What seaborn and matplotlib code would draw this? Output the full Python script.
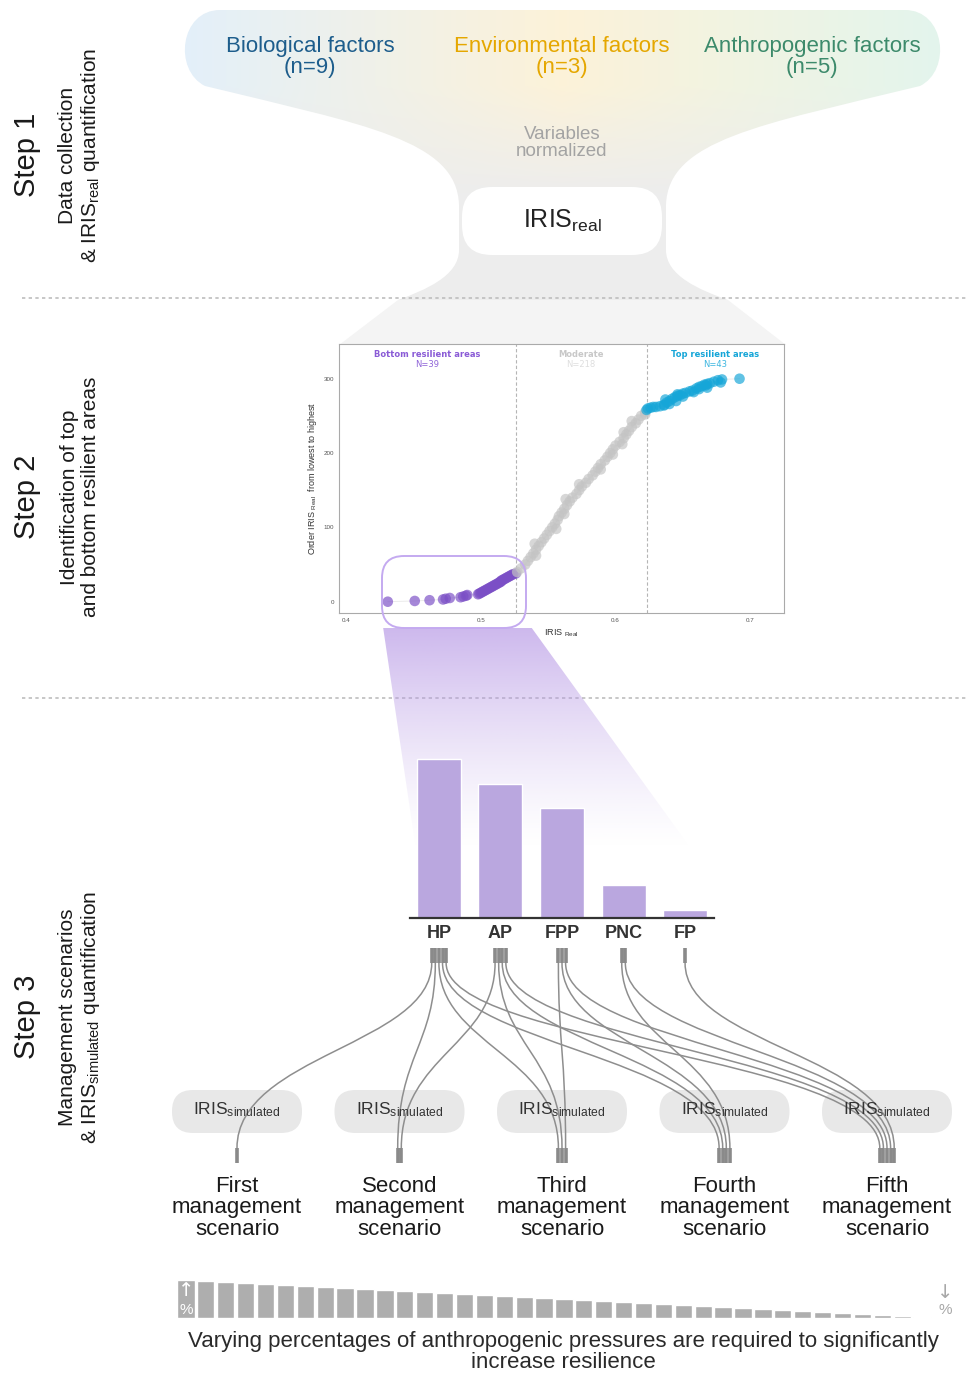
import numpy as np
import matplotlib
matplotlib.use("Agg")
import matplotlib.pyplot as plt
from matplotlib.path import Path
from matplotlib.patches import PathPatch, FancyBboxPatch, Polygon
import pandas as pd
import seaborn as sns

W, H = 968, 1375

# ---------------- data ----------------
factor_groups = ["Biological factors", "Environmental factors", "Anthropogenic factors"]
factor_counts = [9, 3, 5]
factor_colors = ["#1d5d8c", "#e5a700", "#3c8a6b"]

bottom_rank = [0, 1, 2, 3, 4, 5, 6, 7, 8, 9, 10, 11, 12, 13, 14, 15, 16, 17, 18, 19,
               20, 21, 22, 23, 24, 25, 26, 27, 28, 29, 30, 31, 32, 33, 34, 35, 36, 37, 38]
bottom_iris = [0.431, 0.451, 0.462, 0.472, 0.474, 0.477, 0.485, 0.487, 0.489, 0.490,
               0.498, 0.499, 0.500, 0.501, 0.502, 0.503, 0.504, 0.505, 0.506, 0.507,
               0.508, 0.509, 0.510, 0.511, 0.512, 0.513, 0.514, 0.515, 0.515, 0.516,
               0.517, 0.518, 0.519, 0.520, 0.521, 0.522, 0.523, 0.524, 0.526]
moderate_rank = [40, 45, 50, 55, 60, 62, 65, 70, 75, 78, 80, 85, 90, 95, 98, 100, 105,
                 110, 115, 118, 120, 125, 130, 135, 138, 140, 145, 150, 155, 158, 160,
                 165, 170, 175, 178, 180, 185, 190, 195, 198, 200, 205, 210, 212, 215,
                 220, 225, 228, 230, 235, 240, 243, 245, 250, 252, 255]
moderate_iris = [0.527, 0.530, 0.533, 0.535, 0.537, 0.541, 0.539, 0.541, 0.543, 0.540,
                 0.545, 0.547, 0.549, 0.551, 0.556, 0.553, 0.555, 0.557, 0.558, 0.562,
                 0.560, 0.562, 0.564, 0.566, 0.563, 0.568, 0.571, 0.573, 0.575, 0.573,
                 0.578, 0.580, 0.583, 0.585, 0.589, 0.587, 0.589, 0.592, 0.594, 0.598,
                 0.596, 0.598, 0.600, 0.605, 0.603, 0.606, 0.608, 0.606, 0.610, 0.612,
                 0.615, 0.612, 0.617, 0.619, 0.622, 0.622]
top_rank = [258, 260, 261, 262, 262, 263, 264, 265, 266, 268, 270, 270, 272, 273, 275,
            276, 277, 278, 279, 280, 281, 282, 283, 284, 286, 287, 288, 289, 290, 291,
            292, 293, 294, 295, 296, 298, 299, 300]
top_iris = [0.623, 0.624, 0.626, 0.628, 0.630, 0.633, 0.636, 0.636, 0.640, 0.638, 0.640,
            0.645, 0.637, 0.642, 0.644, 0.650, 0.646, 0.648, 0.646, 0.650, 0.652, 0.658,
            0.655, 0.657, 0.662, 0.660, 0.668, 0.662, 0.664, 0.667, 0.666, 0.668, 0.670,
            0.678, 0.673, 0.676, 0.679, 0.692]
group_labels = ["Bottom resilient areas", "Moderate", "Top resilient areas"]
group_n = [39, 218, 43]
group_colors = ["#7b4fc6", "#c4c4c4", "#16a6d8"]
thresholds = [0.526, 0.623]

pressures = ["HP", "AP", "FPP", "PNC", "FP"]
pressure_effect = [100, 84, 69, 21, 5]

scenarios = ["First", "Second", "Third", "Fourth", "Fifth"]

pressure_share = [38, 37, 36, 35, 34, 33, 32, 31, 30, 29, 28, 27, 26, 25, 24, 23, 22, 21, 20,
                  19, 18, 17, 16, 15, 14, 13, 12, 11, 10, 9, 8, 7, 6, 5, 4, 3, 2, 1]

# ---------------- figure ----------------
sns.set_theme(style="white")
plt.rcParams["font.family"] = ["Liberation Sans", "DejaVu Sans"]
plt.rcParams["mathtext.default"] = "regular"

fig = plt.figure(figsize=(W / 100, H / 100), dpi=100)
bg = fig.add_axes([0, 0, 1, 1])
bg.set_xlim(0, W)
bg.set_ylim(H, 0)
bg.axis("off")
bg.set_zorder(0)


def px_axes(x0, y0, x1, y1):
    return fig.add_axes([x0 / W, 1 - y1 / H, (x1 - x0) / W, (y1 - y0) / H])


# ---- step 1 funnel ----
verts = [(220, 10), (905, 10), (945, 10), (952, 70), (920, 86),
         (760, 125), (668, 140), (666, 205), (666, 250),
         (666, 276), (700, 290), (728, 300), (398, 300),
         (425, 290), (459, 276), (459, 250), (459, 205),
         (457, 140), (365, 125), (205, 86), (173, 70), (180, 10), (220, 10)]
codes = [Path.MOVETO, Path.LINETO, Path.CURVE4, Path.CURVE4, Path.CURVE4,
         Path.CURVE4, Path.CURVE4, Path.CURVE4, Path.LINETO,
         Path.CURVE4, Path.CURVE4, Path.CURVE4, Path.LINETO,
         Path.CURVE4, Path.CURVE4, Path.CURVE4, Path.LINETO,
         Path.CURVE4, Path.CURVE4, Path.CURVE4, Path.CURVE4, Path.CURVE4, Path.CURVE4]
funnel = PathPatch(Path(verts, codes), fc="none", ec="none", transform=bg.transData)
bg.add_patch(funnel)
gx = np.linspace(170, 960, 400)
gy = np.linspace(0, 300, 160)
stops = [180, 562, 945]
cols = np.array([[0.89, 0.94, 0.98], [0.99, 0.95, 0.85], [0.89, 0.96, 0.93]])
horiz = np.stack([np.interp(gx, stops, cols[:, c]) for c in range(3)], axis=-1)
wgt = np.clip((gy - 85) / 110, 0, 1)[:, None, None]
grey = np.array([0.93, 0.93, 0.93])
img = (1 - wgt) * horiz[None, :, :] + wgt * grey
im = bg.imshow(img, extent=(170, 960, 300, 0), aspect="auto", zorder=1)
im.set_clip_path(funnel)
bg.add_patch(Polygon([(398, 300), (728, 300), (786, 345), (339, 345)],
                     closed=True, fc="#f4f4f4", ec="none", zorder=1))

for i, (name, n, col) in enumerate(zip(factor_groups, factor_counts, factor_colors)):
    cx = [310, 562, 812][i]
    bg.text(cx, 57, f"{name}\n(n={n})", color=col, fontsize=16, ha="center",
            va="center", linespacing=1.05, zorder=3)
bg.text(562, 143, "Variables\nnormalized", color="#a3a3a3", fontsize=13.5,
        ha="center", va="center", linespacing=1.05, zorder=3)
bg.add_patch(FancyBboxPatch((462, 187), 200, 68,
                            boxstyle="round,pad=0,rounding_size=30",
                            fc="white", ec="none", zorder=2))
bg.text(562, 221, r"IRIS$_{real}$", fontsize=18, color="#222222",
        ha="center", va="center", zorder=3)

# ---- separators and step labels ----
for yy in [298, 698]:
    bg.plot([22, W], [yy, yy], color="#bdbdbd", lw=1.2, ls=(0, (2, 2)), zorder=1)

steps = [("Step 1", "Data collection\n& IRIS$_{real}$ quantification", 155),
         ("Step 2", "Identification of top\nand bottom resilient areas", 497),
         ("Step 3", "Management scenarios\n& IRIS$_{simulated}$ quantification", 1017)]
for title, sub, yc in steps:
    bg.text(27, yc, title, rotation=90, fontsize=21, ha="center", va="center",
            color="#1a1a1a")
    bg.text(80, yc, sub, rotation=90, fontsize=15, ha="center", va="center",
            multialignment="center", linespacing=1.1, color="#1a1a1a")

# ---- step 2 scatter ----
df = pd.DataFrame({
    "iris": bottom_iris + moderate_iris + top_iris,
    "rank": bottom_rank + moderate_rank + top_rank,
    "group": [group_labels[0]] * len(bottom_iris) + [group_labels[1]] * len(moderate_iris)
    + [group_labels[2]] * len(top_iris),
}).sort_values("rank", kind="stable")

ax_sc = px_axes(339, 344, 784, 613)
ax_sc.set_zorder(1)
sns.lineplot(data=df, x="iris", y="rank", sort=False, estimator=None,
             color="#ebebeb", lw=0.7, ax=ax_sc)
sns.scatterplot(data=df, x="iris", y="rank", hue="group",
                palette=dict(zip(group_labels, group_colors)),
                s=58, alpha=0.68, linewidth=0, legend=False, ax=ax_sc, zorder=3)
for t in thresholds:
    ax_sc.axvline(t, color="#b5b5b5", lw=0.8, ls=(0, (3, 2)))
ax_sc.set_xlim(0.3948, 0.725)
ax_sc.set_ylim(-15.2, 346.7)
ax_sc.set_xticks([0.4, 0.5, 0.6, 0.7])
ax_sc.set_yticks([0, 100, 200, 300])
ax_sc.tick_params(labelsize=4.5, colors="#555555", length=2, width=0.5, pad=1.5)
for sp in ax_sc.spines.values():
    sp.set_color("#aaaaaa")
    sp.set_linewidth(0.8)
ax_sc.set_xlabel(r"IRIS $_{Real}$", fontsize=6.5, color="#333333", labelpad=3)
ax_sc.set_ylabel(r"Order IRIS $_{Real}$  from lowest to highest", fontsize=6.5,
                 color="#333333", labelpad=3)
edges = [ax_sc.get_xlim()[0]] + thresholds + [ax_sc.get_xlim()[1]]
n_cols = ["#8f63d8", "#dedede", "#3cb6e0"]
t_cols = ["#8a5bd6", "#c8c8c8", "#16a6d8"]
for k in range(3):
    xm = (edges[k] + edges[k + 1]) / 2
    ax_sc.text(xm, 0.962, group_labels[k], transform=ax_sc.get_xaxis_transform(),
               ha="center", va="center", fontsize=6, fontweight="bold",
               color=t_cols[k], family="DejaVu Sans")
    ax_sc.text(xm, 0.922, f"N={group_n[k]}", transform=ax_sc.get_xaxis_transform(),
               ha="center", va="center", fontsize=6, color=n_cols[k],
               family="DejaVu Sans")

# highlight of the bottom areas and its projection
overlay = fig.add_axes([0, 0, 1, 1])
overlay.set_xlim(0, W)
overlay.set_ylim(H, 0)
overlay.axis("off")
overlay.set_zorder(2)
overlay.add_patch(FancyBboxPatch((382, 556), 144, 72,
                                 boxstyle="round,pad=0,rounding_size=22",
                                 fc="none", ec="#c4aaf0", lw=1.4))
cone = Polygon([(382, 620), (526, 620), (692, 850), (416, 850)], closed=True,
               fc="none", ec="none", transform=bg.transData)
bg.add_patch(cone)
shade = np.zeros((120, 1, 4))
shade[..., 0], shade[..., 1], shade[..., 2] = 0.72, 0.60, 0.90
shade[:, 0, 3] = np.linspace(0.75, 0.0, 120) ** 1.3
im2 = bg.imshow(shade, extent=(370, 700, 850, 628), aspect="auto", zorder=1)
im2.set_clip_path(cone)

# ---- step 3 bars ----
ax_bar = px_axes(410, 750, 714, 918)
ax_bar.set_zorder(3)
ax_bar.patch.set_visible(False)
sns.barplot(x=pressures, y=pressure_effect, color="#baa7df", saturation=1,
            width=0.715, ax=ax_bar)
ax_bar.set_xlim(-0.47, 4.47)
ax_bar.set_ylim(0, 105.7)
ax_bar.set_yticks([])
for s in ["top", "left", "right"]:
    ax_bar.spines[s].set_visible(False)
ax_bar.spines["bottom"].set_color("#333333")
ax_bar.spines["bottom"].set_linewidth(1.6)
ax_bar.tick_params(axis="x", length=0, pad=5, labelsize=13, colors="#333333")
for lab in ax_bar.get_xticklabels():
    lab.set_fontweight("bold")
ax_bar.set_xlabel("")
ax_bar.set_ylabel("")

# pixel positions of the bars through the bar axes
fig.canvas.draw()
bar_x = [ax_bar.transData.transform((i, 0))[0] for i in range(len(pressures))]
scen_x = [237, 399.5, 562, 724.5, 887]
gap = 3.6

for k, sx in enumerate(scen_x):
    bg.add_patch(FancyBboxPatch((sx - 65, 1090), 130, 43,
                                boxstyle="round,pad=0,rounding_size=21",
                                fc="#e8e8e8", ec="none", zorder=1))
    bg.text(sx, 1110, r"IRIS$_{simulated}$", fontsize=12.5, color="#333333",
            ha="center", va="center", zorder=4)
    bg.text(sx, 1208, f"{scenarios[k]}\nmanagement\nscenario", fontsize=16,
            ha="center", va="center", linespacing=1.04, color="#1a1a1a")

y0, y1 = 963, 1148
for f, fx in enumerate(bar_x):
    n_f = len(pressures) - f
    for i in range(n_f):
        sx_ = fx + (i - (n_f - 1) / 2) * gap
        k = f + i
        tx = scen_x[k] + (f - k / 2) * gap
        bg.plot([sx_, sx_], [948, y0], color="#8a8a8a", lw=2.6,
                solid_capstyle="butt", zorder=3)
        curve = Path([(sx_, y0), (sx_, 1045), (tx, 1055), (tx, y1)],
                     [Path.MOVETO, Path.CURVE4, Path.CURVE4, Path.CURVE4])
        bg.add_patch(PathPatch(curve, fc="none", ec="#8e8e8e", lw=1.1, zorder=2))
        bg.plot([tx, tx], [y1, 1163], color="#8a8a8a", lw=2.6,
                solid_capstyle="butt", zorder=3)

# ---- decreasing pressure strip ----
ax_st = px_axes(176, 1280, 932, 1318)
ax_st.set_zorder(3)
ax_st.patch.set_visible(False)
sns.barplot(x=list(range(len(pressure_share))), y=pressure_share, color="#aeaeae",
            saturation=1, width=0.87, ax=ax_st)
ax_st.set_ylim(0, max(pressure_share))
ax_st.set_xlim(-0.5, len(pressure_share) - 0.5)
ax_st.axis("off")
ax_st.text(0, 27, "\u2191", ha="center", va="center", color="white", fontsize=14,
           family=["DejaVu Sans"])
ax_st.text(0, 8, "%", ha="center", va="center", color="white", fontsize=11)
bg.text(945, 1293, "\u2193", ha="center", va="center", color="#a8a8a8", fontsize=14,
        family=["DejaVu Sans"])
bg.text(945, 1310, "%", ha="center", va="center", color="#a8a8a8", fontsize=11)
bg.text(563, 1352, "Varying percentages of anthropogenic pressures are required to "
        "significantly\nincrease resilience", fontsize=16, ha="center", va="center",
        linespacing=1.04, color="#2a2a2a")

fig.savefig("out.png", dpi=100, facecolor="white")
